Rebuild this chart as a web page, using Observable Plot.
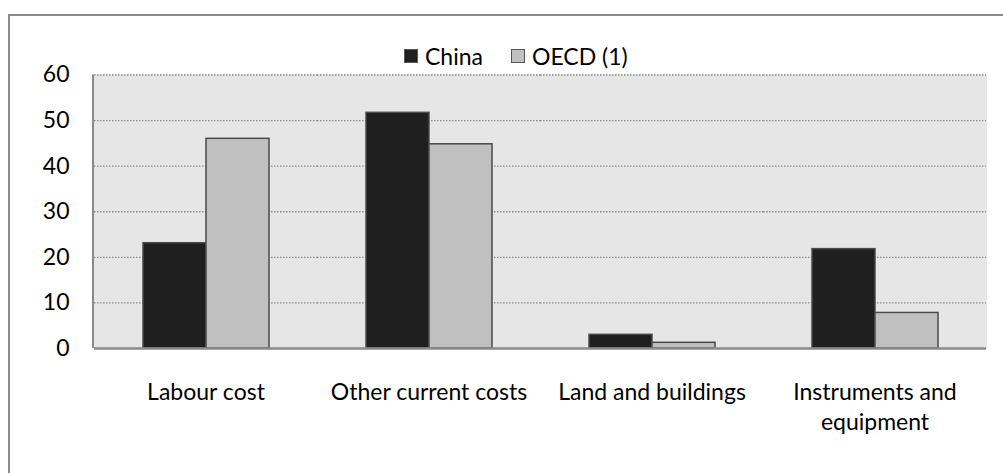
<!DOCTYPE html>
<html>
<head>
<meta charset="utf-8">
<script src="https://cdn.jsdelivr.net/npm/d3@7"></script>
<script src="https://cdn.jsdelivr.net/npm/@observablehq/plot@0.6"></script>
<style>
  html, body { margin: 0; padding: 0; background: #fff; overflow: hidden; width: 1003px; height: 473px; }
  body { position: relative; font-family: Lato, "Open Sans", sans-serif; }
  #border { position: absolute; left: 8px; top: 14px; width: 1100px; height: 600px; border: 2px solid #8a8a8a; box-sizing: border-box; }
  #legend { position: relative; height: 62px; }
  .item { position: absolute; top: 44px; display: flex; align-items: center; font-size: 23px; color: #000; line-height: 24px; }
  .sw { width: 14px; height: 14px; border: 1.5px solid #555; box-sizing: border-box; margin-right: 7px; }
  #chart { position: relative; }
</style>
</head>
<body>
<div id="border"></div>
<div id="legend"></div>
<div id="chart"></div>
<script>
const categories = ["Labour cost", "Other current costs", "Land and buildings", "Instruments and equipment"];
const tickLabels = ["Labour cost", "Other current costs", "Land and buildings", "Instruments and\nequipment"];
const series = ["China", "OECD (1)"];
const seriesColors = ["#1f1f1f", "#c0c0c0"];
const china = [23.1, 51.7, 3.0, 21.8];
const oecd = [46.0, 44.8, 1.25, 7.8];
const yTicks = [0, 10, 20, 30, 40, 50, 60];

const data = categories.flatMap((c, i) => [
  {category: c, series: series[0], value: china[i]},
  {category: c, series: series[1], value: oecd[i]}
]);

// Legend (HTML, above the SVG)
const legend = document.getElementById("legend");
const legendLeft = [404, 511];
series.forEach((s, i) => {
  const it = document.createElement("div");
  it.className = "item";
  it.style.left = legendLeft[i] + "px";
  const sw = document.createElement("div");
  sw.className = "sw";
  sw.style.background = seriesColors[i];
  it.appendChild(sw);
  const t = document.createElement("span");
  t.textContent = s;
  it.appendChild(t);
  legend.appendChild(it);
});

const marginLeft = 93;
const chart = Plot.plot({
  width: 1003,
  height: 411,
  marginTop: 12.5,
  marginBottom: 125,
  marginLeft,
  marginRight: 17,
  style: {fontFamily: "Lato, 'Open Sans', sans-serif", fontSize: "23px", color: "#000", background: "transparent", overflow: "visible"},
  fx: {domain: categories, padding: 0, axis: null},
  x: {domain: series, paddingInner: 0, paddingOuter: 0.744, axis: null},
  y: {domain: [0, 60], axis: null},
  color: {domain: series, range: seriesColors},
  marks: [
    Plot.frame({fill: "#e6e6e6", stroke: "#e6e6e6", strokeWidth: 1}),
    Plot.ruleY(yTicks.slice(1), {stroke: "#8c8c8c", strokeWidth: 1.3, strokeDasharray: "1.5,1.5"}),
    Plot.barY(data, {fx: "category", x: "series", y: "value", fill: "series", stroke: "#4a4a4a", strokeWidth: 1.5}),
    Plot.ruleY([0], {stroke: "#8a8a8a", strokeWidth: 2.5}),
    Plot.axisY({ticks: yTicks, tickSize: 0, tickPadding: 25, label: null, fontSize: 23, fill: "#000"}),
    Plot.axisFx({anchor: "bottom", tickSize: 0, tickPadding: 30, label: null, fontSize: 23, lineHeight: 1.3, fill: "#000",
      tickFormat: d => tickLabels[categories.indexOf(d)]})
  ]
});
document.getElementById("chart").appendChild(chart);

// left edge line of the plotting area, placed via the y scale
const ys = chart.scale("y");
d3.select(chart).append("line")
  .attr("x1", marginLeft).attr("x2", marginLeft)
  .attr("y1", ys.apply(0)).attr("y2", ys.apply(60))
  .attr("stroke", "#8a8a8a").attr("stroke-width", 2);
</script>
</body>
</html>
